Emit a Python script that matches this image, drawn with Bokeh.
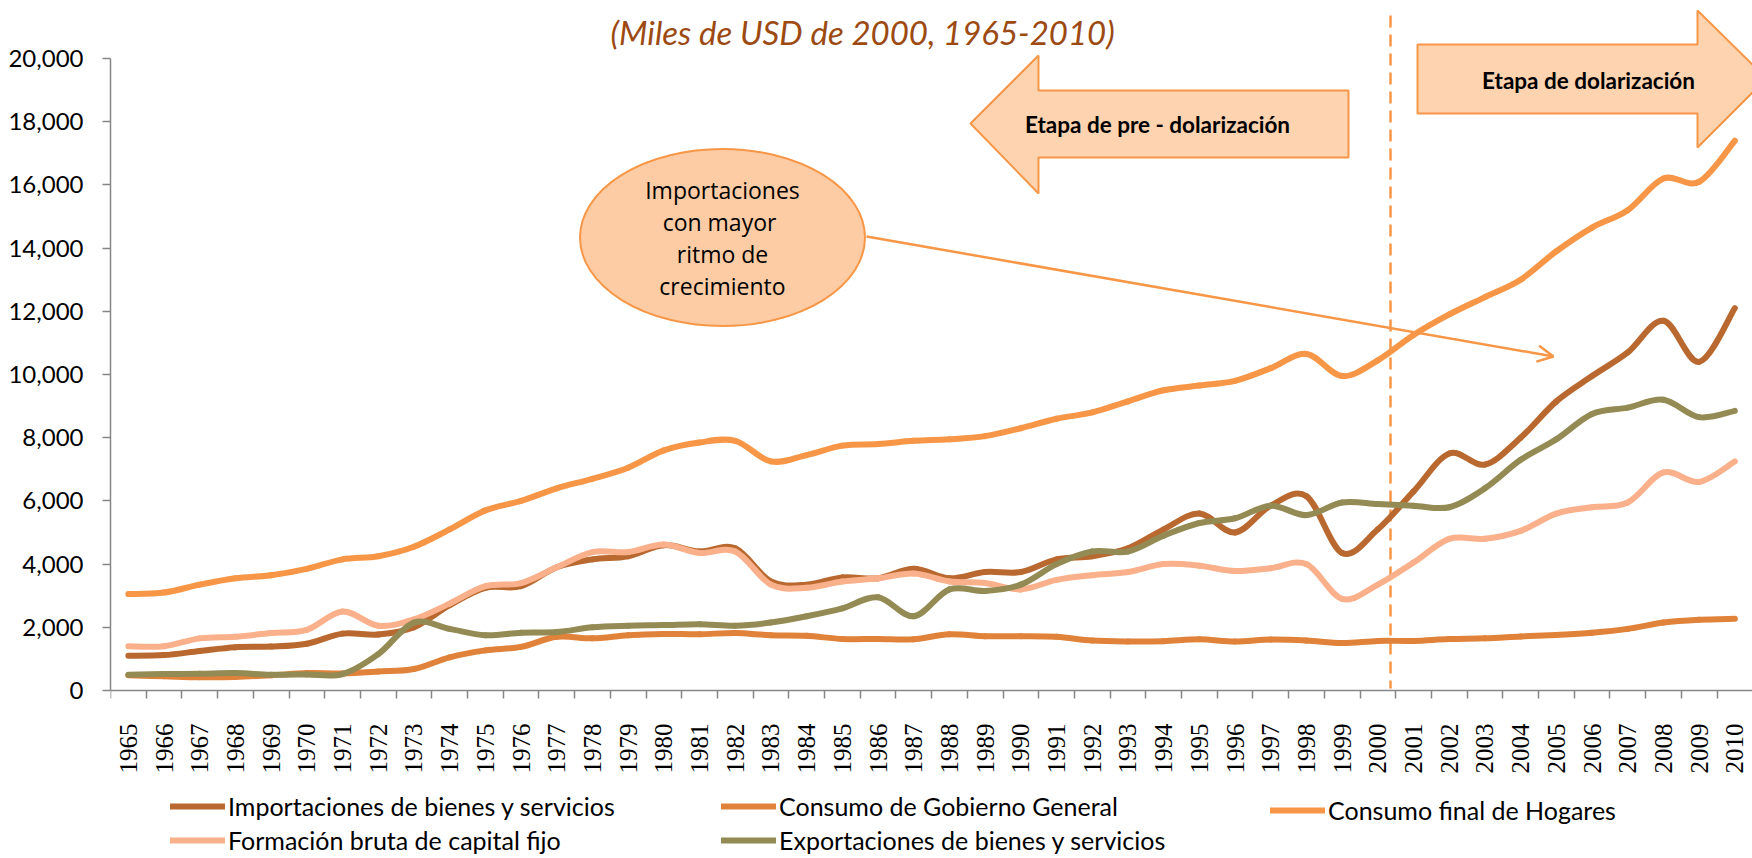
import numpy as np
from bokeh.plotting import figure
from bokeh.models import (FixedTicker, NumeralTickFormatter, Legend, LegendItem,
                          Arrow, OpenHead, Range1d)
from bokeh.core.properties import value
from bokeh.embed import file_html
from bokeh.resources import INLINE

# ---------------- data ----------------
years = list(range(1965, 2011))
importaciones = [1100, 1120, 1250, 1370, 1390, 1480, 1800, 1770, 2000, 2700,
                 3250, 3300, 3900, 4150, 4250, 4600, 4400, 4500, 3450, 3350,
                 3580, 3550, 3850, 3550, 3750, 3750, 4150, 4250, 4500, 5100,
                 5600, 5000, 5850, 6150, 4350, 5100, 6300, 7500, 7150, 8000,
                 9150, 9950, 10700, 11700, 10400, 12100]
gobierno = [480, 450, 420, 430, 480, 550, 540, 600, 680, 1050,
            1270, 1380, 1700, 1650, 1750, 1790, 1780, 1820, 1750, 1730,
            1630, 1630, 1620, 1780, 1720, 1720, 1700, 1580, 1550, 1560,
            1620, 1550, 1610, 1580, 1500, 1570, 1570, 1630, 1650, 1710,
            1760, 1830, 1950, 2150, 2240, 2270]
hogares = [3050, 3100, 3350, 3550, 3650, 3850, 4150, 4250, 4550, 5100,
           5700, 6000, 6400, 6700, 7050, 7600, 7850, 7900, 7250, 7450,
           7750, 7800, 7900, 7950, 8050, 8300, 8600, 8800, 9150, 9500,
           9650, 9800, 10200, 10650, 9950, 10450, 11250, 11900, 12450, 13000,
           13900, 14650, 15200, 16200, 16100, 17400]
formacion = [1400, 1400, 1650, 1700, 1820, 1920, 2500, 2050, 2250, 2750,
             3300, 3400, 3900, 4380, 4380, 4620, 4350, 4400, 3350, 3250,
             3450, 3550, 3700, 3450, 3400, 3200, 3500, 3650, 3750, 4000,
             3950, 3780, 3870, 4000, 2900, 3350, 4050, 4800, 4800, 5050,
             5600, 5800, 5950, 6900, 6600, 7250]
exportaciones = [500, 520, 530, 550, 500, 510, 520, 1150, 2150, 1950,
                 1750, 1830, 1850, 2000, 2050, 2070, 2100, 2050, 2150, 2350,
                 2600, 2950, 2350, 3200, 3150, 3350, 4000, 4400, 4400, 4900,
                 5300, 5450, 5850, 5550, 5950, 5900, 5850, 5800, 6400, 7300,
                 7950, 8750, 8950, 9200, 8650, 8850]
series_names = ["Importaciones de bienes y servicios", "Consumo de Gobierno General",
                "Consumo final de Hogares", "Formación bruta de capital fijo",
                "Exportaciones de bienes y servicios"]
y_ticks = list(range(0, 20001, 2000))
title_text = "(Miles de  USD de 2000, 1965-2010)"
note_lines = ["Importaciones", "con  mayor", "ritmo de", "crecimiento"]
stage_pre = "Etapa de pre - dolarización"
stage_dol = "Etapa de dolarización"

# ---------------- layout geometry (page pixels) ----------------
W, H = 1752, 858
PX_L, PX_ZERO, PX_T, PX_R, PX_B = 110, 690, 0, 1752, 858
PXY = 35.7                # px per year
X0 = 1964.5
YPP = 2000 / 63.2         # value units per px
x_end = X0 + (PX_R - PX_L) / PXY
y_end = (PX_ZERO - PX_T) * YPP
y_start = -(PX_B - PX_ZERO) * YPP


def dx(px):
    return X0 + (px - PX_L) / PXY


def dy(py):
    return (PX_ZERO - py) * YPP


p = figure(width=W, height=H, output_backend="svg", toolbar_location=None,
           x_range=Range1d(X0, x_end), y_range=Range1d(y_start, y_end),
           min_border_left=PX_L, min_border_right=0, min_border_top=0,
           min_border_bottom=0)
p.background_fill_color = "white"
p.border_fill_color = "white"
p.outline_line_color = None
p.xgrid.visible = False
p.ygrid.visible = False

axis_gray = "#868686"
# y axis
yax = p.yaxis[0]
yax.ticker = FixedTicker(ticks=y_ticks)
yax.bounds = (0, 20000)
yax.formatter = NumeralTickFormatter(format="0,0")
yax.axis_line_color = axis_gray
yax.axis_line_width = 1.5
yax.major_tick_line_color = axis_gray
yax.major_tick_line_width = 1.5
yax.major_tick_out = 8
yax.major_tick_in = 0
yax.minor_tick_line_color = None
yax.major_label_standoff = 19
yax.major_label_text_font = "Lato"
yax.major_label_text_font_size = "24px"
yax.major_label_text_color = "black"

# x axis (category style: labels centred, ticks between years), pinned at y=0
xax = p.xaxis[0]
xax.fixed_location = 0
xax.ticker = FixedTicker(ticks=years, minor_ticks=[y - 0.5 for y in years] + [years[-1] + 0.5])
xax.major_label_overrides = {y: str(y) for y in years}
xax.axis_line_color = axis_gray
xax.axis_line_width = 1.5
xax.major_tick_line_color = None
xax.major_tick_out = 0
xax.major_tick_in = 0
xax.minor_tick_line_color = axis_gray
xax.minor_tick_line_width = 1.5
xax.minor_tick_out = 8
xax.minor_tick_in = 0
xax.major_label_orientation = np.pi / 2
xax.major_label_standoff = 25
xax.major_label_text_font = "Liberation Sans Narrow"
xax.major_label_text_font_size = "25px"
xax.major_label_text_color = "black"

# dashed divider
p.segment(x0=[dx(1390)], y0=[dy(15)], x1=[dx(1390)], y1=[dy(688)],
          line_color="#F79646", line_width=2.5, line_dash="12 7")


def bezier_parts(xs, ys):
    x = np.asarray(xs, float)
    y = np.asarray(ys, float)
    xp = np.concatenate([[x[0]], x, [x[-1]]])
    yp = np.concatenate([[y[0]], y, [y[-1]]])
    n = len(x) - 1
    i = np.arange(n)
    return dict(x0=x[:-1], y0=y[:-1], x1=x[1:], y1=y[1:],
                cx0=xp[i + 1] + (xp[i + 2] - xp[i]) / 6,
                cy0=yp[i + 1] + (yp[i + 2] - yp[i]) / 6,
                cx1=xp[i + 2] - (xp[i + 3] - xp[i + 1]) / 6,
                cy1=yp[i + 2] - (yp[i + 3] - yp[i + 1]) / 6)


colors = ["#B9692F", "#E0823A", "#F79646", "#FAB18B", "#948A54"]
data = [importaciones, gobierno, hogares, formacion, exportaciones]
renderers = []
for vals, col in zip(data, colors):
    r = p.bezier(line_color=col, line_width=6, line_cap="round", **bezier_parts(years, vals))
    renderers.append(r)


# legends (three columns, below the axis labels)
def make_legend(items, loc):
    leg = Legend(items=items, location=loc, orientation="vertical",
                 border_line_alpha=0, background_fill_alpha=0, padding=0, margin=0,
                 spacing=4, glyph_width=55, glyph_height=26, label_height=26,
                 label_standoff=3, label_text_font="Lato", label_text_font_size="25px",
                 label_text_color="black", label_text_baseline="middle")
    p.add_layout(leg)


make_legend([LegendItem(label=series_names[0], renderers=[renderers[0]]),
             LegendItem(label=series_names[3], renderers=[renderers[3]])], (60, 3))
make_legend([LegendItem(label=series_names[1], renderers=[renderers[1]]),
             LegendItem(label=series_names[4], renderers=[renderers[4]])], (611, 3))
make_legend([LegendItem(label=series_names[2], renderers=[renderers[2]])], (1160, 33))

# stage arrows
shape_fill = "#FDD3B0"
shape_line = "#F79646"
left_arrow = [(970, 123), (1038, 55), (1038, 90), (1348, 90), (1348, 157), (1038, 157), (1038, 193)]
right_arrow = [(1417, 44), (1697, 44), (1697, 10), (1766, 78), (1697, 147), (1697, 113), (1417, 113)]
for shape in (left_arrow, right_arrow):
    p.patch([dx(a) for a, b in shape], [dy(b) for a, b in shape],
            fill_color=shape_fill, line_color=shape_line, line_width=2)

p.text(x=[dx(1157)], y=[dy(124)], text=[stage_pre], text_font=value("Lato"),
       text_font_style="bold", text_font_size="22.5px", text_color="black",
       text_align="center", text_baseline="middle")
p.text(x=[dx(1588)], y=[dy(80)], text=[stage_dol], text_font=value("Lato"),
       text_font_style="bold", text_font_size="22.5px", text_color="black",
       text_align="center", text_baseline="middle")

# callout ellipse and arrow
p.add_layout(Arrow(end=OpenHead(size=16, line_color=shape_line, line_width=2.5),
                   x_start=dx(866), y_start=dy(236), x_end=dx(1553), y_end=dy(356),
                   line_color=shape_line, line_width=2.5))
p.ellipse(x=[dx(722)], y=[dy(237)], width=285, height=177,
          width_units="screen", height_units="screen",
          fill_color="#FDCCA5", line_color=shape_line, line_width=2)
p.text(x=[dx(722)] * 4, y=[dy(189), dy(221), dy(253), dy(285)], text=note_lines,
       text_font=value("Open Sans"), text_font_size="23px", text_color="black",
       text_align="center", text_baseline="middle")

# title
p.text(x=[dx(866)], y=[dy(31)], text=[title_text], text_font=value("Lato"),
       text_font_style="italic", text_font_size="33px", text_color="#9C4A12",
       text_align="center", text_baseline="alphabetic")

open("out.html", "w").write(file_html(p, INLINE))
